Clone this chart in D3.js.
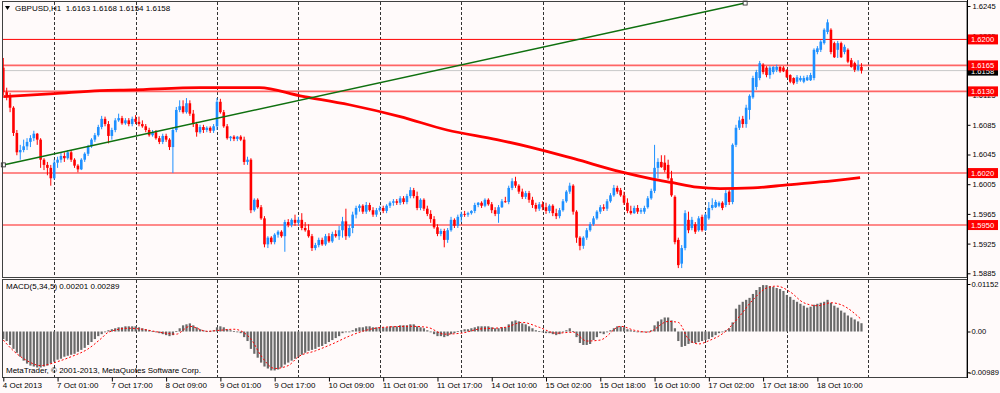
<!DOCTYPE html>
<html><head><meta charset="utf-8">
<script src="https://cdn.jsdelivr.net/npm/d3@7"></script>
<style>
html,body{margin:0;padding:0;background:#fffafa;}
svg{display:block;font-family:"Liberation Sans",Arial,sans-serif;}
</style></head><body>
<svg id="c" width="1000" height="393"></svg>
<script>
const symbol = "GBPUSD,H1";
const lastOHLC = [1.6163, 1.6168, 1.6154, 1.6158];
const open = [
1.6162,1.6129,1.6125,1.6108,1.6074,1.6048,1.6051,1.6056,1.6062,1.6067,
1.6073,1.6065,1.6038,1.6031,1.6027,1.6013,1.6034,1.6038,1.6043,1.6040,
1.6048,1.6038,1.6030,1.6025,1.6038,1.6046,1.6056,1.6065,1.6071,1.6082,
1.6093,1.6086,1.6070,1.6078,1.6091,1.6094,1.6087,1.6091,1.6086,1.6093,
1.6089,1.6086,1.6083,1.6078,1.6071,1.6075,1.6067,1.6062,1.6070,1.6065,
1.6055,1.6078,1.6105,1.6110,1.6102,1.6114,1.6100,1.6086,1.6075,1.6082,
1.6078,1.6081,1.6077,1.6083,1.6116,1.6102,1.6083,1.6067,1.6069,1.6066,
1.6069,1.6065,1.6035,1.6038,1.5970,1.5984,1.5974,1.5959,1.5924,1.5933,
1.5927,1.5937,1.5941,1.5935,1.5954,1.5950,1.5957,1.5953,1.5957,1.5946,
1.5943,1.5935,1.5919,1.5923,1.5930,1.5924,1.5935,1.5928,1.5938,1.5935,
1.5943,1.5955,1.5935,1.5946,1.5964,1.5973,1.5976,1.5968,1.5977,1.5970,
1.5964,1.5970,1.5973,1.5969,1.5976,1.5980,1.5982,1.5980,1.5986,1.5981,
1.5989,1.5997,1.5989,1.5973,1.5984,1.5972,1.5965,1.5958,1.5947,1.5938,
1.5942,1.5930,1.5943,1.5957,1.5949,1.5961,1.5965,1.5964,1.5966,1.5969,
1.5977,1.5980,1.5976,1.5984,1.5978,1.5970,1.5965,1.5974,1.5982,1.5981,
1.6000,1.6009,1.6003,1.5995,1.5988,1.5993,1.5984,1.5977,1.5972,1.5978,
1.5974,1.5969,1.5976,1.5966,1.5962,1.5970,1.5982,1.5995,1.6003,1.5968,
1.5933,1.5922,1.5933,1.5943,1.5951,1.5959,1.5968,1.5974,1.5972,1.5982,
1.5990,1.6000,1.5997,1.5990,1.5980,1.5969,1.5966,1.5973,1.5968,1.5968,
1.5974,1.5986,1.5996,1.6027,1.6035,1.6034,1.6031,1.6013,1.5988,1.5930,
1.5898,1.5919,1.5957,1.5946,1.5951,1.5943,1.5961,1.5943,1.5959,1.5973,
1.5974,1.5976,1.5980,1.5977,1.5995,1.5981,1.6058,1.6081,1.6093,1.6086,
1.6105,1.6122,1.6136,1.6148,1.6166,1.6162,1.6152,1.6156,1.6159,1.6163,
1.6162,1.6159,1.6152,1.6148,1.6143,1.6145,1.6143,1.6145,1.6145,1.6148,
1.6183,1.6186,1.6195,1.6210,1.6213,1.6195,1.6186,1.6195,1.6183,1.6186,
1.6172,1.6168,1.6159,1.6163];
const high = [
1.6175,1.6135,1.6128,1.6110,1.6078,1.6058,1.6065,1.6067,1.6071,1.6077,
1.6074,1.6067,1.6040,1.6035,1.6031,1.6038,1.6042,1.6047,1.6048,1.6051,
1.6051,1.6040,1.6032,1.6040,1.6048,1.6058,1.6067,1.6074,1.6085,1.6097,
1.6096,1.6090,1.6081,1.6094,1.6100,1.6097,1.6094,1.6094,1.6096,1.6098,
1.6096,1.6091,1.6086,1.6081,1.6078,1.6078,1.6070,1.6073,1.6073,1.6067,
1.6081,1.6109,1.6118,1.6118,1.6121,1.6118,1.6105,1.6089,1.6085,1.6085,
1.6083,1.6083,1.6086,1.6121,1.6120,1.6105,1.6086,1.6070,1.6071,1.6070,
1.6071,1.6069,1.6042,1.6040,1.5986,1.5986,1.5977,1.5962,1.5935,1.5935,
1.5939,1.5943,1.5943,1.5957,1.5958,1.5959,1.5964,1.5961,1.5966,1.5954,
1.5951,1.5938,1.5926,1.5933,1.5933,1.5938,1.5939,1.5941,1.5943,1.5949,
1.5961,1.5972,1.5950,1.5968,1.5976,1.5978,1.5978,1.5981,1.5980,1.5974,
1.5973,1.5976,1.5976,1.5978,1.5982,1.5985,1.5985,1.5989,1.5989,1.5992,
1.6001,1.6000,1.5995,1.5986,1.5986,1.5976,1.5970,1.5962,1.5951,1.5945,
1.5945,1.5946,1.5961,1.5959,1.5964,1.5968,1.5969,1.5968,1.5970,1.5980,
1.5981,1.5982,1.5986,1.5986,1.5981,1.5974,1.5977,1.5985,1.5988,1.6003,
1.6013,1.6015,1.6005,1.5999,1.5996,1.5996,1.5988,1.5980,1.5981,1.5982,
1.5980,1.5978,1.5978,1.5972,1.5973,1.5985,1.5997,1.6007,1.6005,1.5970,
1.5935,1.5935,1.5946,1.5954,1.5962,1.5970,1.5977,1.5978,1.5985,1.5993,
1.6004,1.6003,1.6000,1.5995,1.5986,1.5976,1.5976,1.5977,1.5973,1.5976,
1.5989,1.5999,1.6058,1.6040,1.6044,1.6044,1.6038,1.6023,1.5990,1.5933,
1.5923,1.5970,1.5968,1.5961,1.5954,1.5962,1.5964,1.5966,1.5981,1.5986,
1.5984,1.5982,1.5982,1.5997,1.5997,1.6060,1.6085,1.6096,1.6097,1.6112,
1.6126,1.6151,1.6159,1.6171,1.6168,1.6164,1.6164,1.6164,1.6166,1.6164,
1.6164,1.6160,1.6153,1.6149,1.6152,1.6151,1.6151,1.6152,1.6155,1.6188,
1.6191,1.6199,1.6215,1.6227,1.6215,1.6197,1.6198,1.6197,1.6193,1.6188,
1.6175,1.6170,1.6172,1.6168];
const low = [
1.6125,1.6118,1.6102,1.6070,1.6044,1.6038,1.6048,1.6051,1.6055,1.6063,
1.6058,1.6027,1.6024,1.6017,1.6003,1.6011,1.6027,1.6034,1.6035,1.6038,
1.6035,1.6027,1.6021,1.6024,1.6035,1.6043,1.6054,1.6062,1.6069,1.6079,
1.6083,1.6060,1.6065,1.6075,1.6089,1.6085,1.6085,1.6083,1.6083,1.6086,
1.6083,1.6081,1.6075,1.6069,1.6069,1.6065,1.6059,1.6059,1.6062,1.6051,
1.6020,1.6075,1.6102,1.6100,1.6100,1.6097,1.6082,1.6069,1.6073,1.6074,
1.6075,1.6074,1.6074,1.6078,1.6100,1.6081,1.6065,1.6063,1.6063,1.6063,
1.6063,1.6031,1.6031,1.5966,1.5968,1.5972,1.5957,1.5920,1.5919,1.5924,
1.5924,1.5933,1.5933,1.5914,1.5947,1.5947,1.5949,1.5949,1.5943,1.5941,
1.5933,1.5915,1.5916,1.5920,1.5922,1.5922,1.5926,1.5926,1.5933,1.5930,
1.5933,1.5930,1.5933,1.5939,1.5959,1.5968,1.5965,1.5965,1.5968,1.5961,
1.5961,1.5968,1.5966,1.5966,1.5973,1.5976,1.5977,1.5977,1.5978,1.5978,
1.5986,1.5986,1.5970,1.5970,1.5969,1.5962,1.5953,1.5945,1.5935,1.5935,
1.5920,1.5926,1.5941,1.5946,1.5946,1.5954,1.5961,1.5961,1.5964,1.5966,
1.5974,1.5973,1.5974,1.5976,1.5966,1.5962,1.5953,1.5973,1.5980,1.5978,
1.5997,1.6000,1.5992,1.5985,1.5985,1.5980,1.5973,1.5968,1.5969,1.5970,
1.5965,1.5966,1.5962,1.5958,1.5959,1.5968,1.5980,1.5992,1.5964,1.5926,
1.5916,1.5918,1.5930,1.5941,1.5949,1.5957,1.5965,1.5969,1.5969,1.5980,
1.5988,1.5992,1.5988,1.5977,1.5966,1.5964,1.5965,1.5965,1.5965,1.5965,
1.5972,1.5984,1.5993,1.6013,1.6027,1.6021,1.6011,1.5988,1.5924,1.5892,
1.5892,1.5916,1.5939,1.5943,1.5938,1.5941,1.5941,1.5942,1.5957,1.5970,
1.5973,1.5974,1.5970,1.5974,1.5977,1.5978,1.6055,1.6078,1.6081,1.6081,
1.6092,1.6120,1.6132,1.6145,1.6153,1.6149,1.6147,1.6153,1.6156,1.6155,
1.6156,1.6148,1.6141,1.6139,1.6140,1.6143,1.6141,1.6144,1.6144,1.6145,
1.6180,1.6183,1.6193,1.6207,1.6180,1.6175,1.6175,1.6175,1.6180,1.6168,
1.6162,1.6156,1.6157,1.6154];
const close = [
1.6129,1.6125,1.6108,1.6074,1.6048,1.6051,1.6056,1.6062,1.6067,1.6073,
1.6065,1.6038,1.6031,1.6027,1.6013,1.6034,1.6038,1.6043,1.6040,1.6048,
1.6038,1.6030,1.6025,1.6038,1.6046,1.6056,1.6065,1.6071,1.6082,1.6093,
1.6086,1.6070,1.6078,1.6091,1.6094,1.6087,1.6091,1.6086,1.6093,1.6089,
1.6086,1.6083,1.6078,1.6071,1.6075,1.6067,1.6062,1.6070,1.6065,1.6055,
1.6078,1.6105,1.6110,1.6102,1.6114,1.6100,1.6086,1.6075,1.6082,1.6078,
1.6081,1.6077,1.6083,1.6116,1.6102,1.6083,1.6067,1.6069,1.6066,1.6069,
1.6065,1.6035,1.6038,1.5970,1.5984,1.5974,1.5959,1.5924,1.5933,1.5927,
1.5937,1.5941,1.5935,1.5954,1.5950,1.5957,1.5953,1.5957,1.5946,1.5943,
1.5935,1.5919,1.5923,1.5930,1.5924,1.5935,1.5928,1.5938,1.5935,1.5943,
1.5955,1.5935,1.5946,1.5964,1.5973,1.5976,1.5968,1.5977,1.5970,1.5964,
1.5970,1.5973,1.5969,1.5976,1.5980,1.5982,1.5980,1.5986,1.5981,1.5989,
1.5997,1.5989,1.5973,1.5984,1.5972,1.5965,1.5958,1.5947,1.5938,1.5942,
1.5930,1.5943,1.5957,1.5949,1.5961,1.5965,1.5964,1.5966,1.5969,1.5977,
1.5980,1.5976,1.5984,1.5978,1.5970,1.5965,1.5974,1.5982,1.5981,1.6000,
1.6009,1.6003,1.5995,1.5988,1.5993,1.5984,1.5977,1.5972,1.5978,1.5974,
1.5969,1.5976,1.5966,1.5962,1.5970,1.5982,1.5995,1.6003,1.5968,1.5933,
1.5922,1.5933,1.5943,1.5951,1.5959,1.5968,1.5974,1.5972,1.5982,1.5990,
1.6000,1.5995,1.5990,1.5980,1.5969,1.5966,1.5973,1.5968,1.5970,1.5973,
1.5986,1.5996,1.6027,1.6035,1.6028,1.6024,1.6013,1.5990,1.5927,1.5896,
1.5919,1.5966,1.5943,1.5957,1.5941,1.5959,1.5943,1.5964,1.5973,1.5977,
1.5981,1.5980,1.5973,1.5993,1.5981,1.6058,1.6081,1.6091,1.6086,1.6108,
1.6124,1.6148,1.6156,1.6168,1.6156,1.6152,1.6162,1.6163,1.6163,1.6157,
1.6157,1.6149,1.6143,1.6141,1.6149,1.6148,1.6148,1.6149,1.6152,1.6186,
1.6188,1.6197,1.6213,1.6223,1.6183,1.6176,1.6195,1.6176,1.6190,1.6170,
1.6163,1.6159,1.6165,1.6158];

// moving average (read at sample bars)
const maIdx = [0,15,28.5,38,58,75.5,87.5,102,117,130.8,145.5,155.3,168.5,181.8,191.5,197.4,204.5,211.3,221,231,240.8,252.6];
const maVal = [1.6123,1.6127,1.6131,1.6132,1.6135,1.6135,1.6124,1.6112,1.6096,1.6078,1.6065,1.6055,1.6039,1.6022,1.6012,1.6007,1.6001,1.5999,1.6000,1.6004,1.6008,1.6014];

// trend line end points
const trendIdx = [0, 218.7];
const trendVal = [1.6031, 1.6249];

const levels = [1.6200, 1.6165, 1.6130, 1.6020, 1.5950];
const bid = 1.6158;
const priceTicks = [1.6245,1.6205,1.6165,1.6125,1.6085,1.6045,1.6005,1.5965,1.5925,1.5885];

const macdHist = [
-0.00183,-0.00231,-0.00326,-0.00421,-0.00516,-0.00611,-0.00707,-0.00778,-0.00826,-0.00849,
-0.00873,-0.00873,-0.00849,-0.00826,-0.00778,-0.00730,-0.00683,-0.00659,-0.00611,-0.00588,
-0.00564,-0.00540,-0.00492,-0.00445,-0.00397,-0.00326,-0.00255,-0.00183,-0.00112,-0.00064,
-0.00017,0.00031,0.00055,0.00079,0.00102,0.00102,0.00126,0.00126,0.00126,0.00126,
0.00102,0.00079,0.00055,0.00031,0.00007,-0.00017,-0.00040,-0.00064,-0.00088,-0.00112,
-0.00088,0.00007,0.00079,0.00150,0.00174,0.00197,0.00150,0.00102,0.00055,0.00031,
0.00007,0.00007,0.00031,0.00102,0.00126,0.00102,0.00055,0.00031,0.00007,-0.00017,
-0.00040,-0.00136,-0.00231,-0.00421,-0.00540,-0.00635,-0.00754,-0.00849,-0.00897,-0.00944,
-0.00944,-0.00921,-0.00873,-0.00802,-0.00754,-0.00707,-0.00659,-0.00611,-0.00564,-0.00516,
-0.00469,-0.00445,-0.00421,-0.00373,-0.00350,-0.00302,-0.00255,-0.00207,-0.00159,-0.00112,
-0.00040,-0.00017,-0.00017,0.00031,0.00079,0.00102,0.00102,0.00126,0.00126,0.00102,
0.00102,0.00102,0.00102,0.00102,0.00126,0.00126,0.00126,0.00150,0.00150,0.00150,
0.00174,0.00174,0.00126,0.00102,0.00079,0.00031,-0.00017,-0.00064,-0.00112,-0.00112,
-0.00136,-0.00112,-0.00064,-0.00040,0.00007,0.00031,0.00055,0.00055,0.00079,0.00102,
0.00126,0.00126,0.00126,0.00126,0.00102,0.00079,0.00079,0.00102,0.00102,0.00174,
0.00245,0.00269,0.00245,0.00197,0.00174,0.00126,0.00079,0.00031,0.00007,-0.00017,
-0.00040,-0.00040,-0.00064,-0.00088,-0.00064,-0.00017,0.00031,0.00079,0.00007,-0.00136,
-0.00278,-0.00326,-0.00326,-0.00302,-0.00207,-0.00136,-0.00040,-0.00064,-0.00017,0.00031,
0.00079,0.00126,0.00126,0.00102,0.00055,0.00031,0.00007,-0.00017,-0.00017,-0.00017,
-0.00017,0.00031,0.00150,0.00245,0.00293,0.00340,0.00340,0.00269,0.00079,-0.00231,
-0.00373,-0.00350,-0.00302,-0.00278,-0.00278,-0.00255,-0.00231,-0.00207,-0.00183,-0.00136,
-0.00088,-0.00040,-0.00017,0.00031,0.00079,0.00221,0.00554,0.00649,0.00721,0.00768,
0.00816,0.00911,0.01006,0.01078,0.01125,0.01125,0.01101,0.01078,0.01054,0.01030,
0.00983,0.00887,0.00840,0.00768,0.00721,0.00673,0.00626,0.00578,0.00602,0.00649,
0.00673,0.00697,0.00721,0.00768,0.00697,0.00626,0.00578,0.00507,0.00459,0.00388,
0.00340,0.00293,0.00245,0.00201];
const sigIdx = [0,3,7,11,16,20,25,29,31,37,41,46,51,55,60,64,68,73,76,80,84,87,92,97,102,107,112,120,125,130,135,140,148,153,158,163,168,172,176,182,186,190,196,199,202,205,208,213,217,221,225,228,232,236,240,244,247,253];
const sigVal = [-0.00207,-0.00469,-0.00707,-0.00826,-0.00730,-0.00611,-0.00421,-0.00159,-0.00017,0.00079,0.00055,-0.00017,-0.00064,0.00126,0.00007,0.00031,0.00055,-0.00183,-0.00588,-0.00897,-0.00826,-0.00611,-0.00469,-0.00302,-0.00112,0.00031,0.00102,0.00126,0.00102,-0.00064,-0.00040,0.00055,0.00102,0.00221,0.00102,-0.00040,-0.00017,-0.00231,-0.00207,0.00126,0.00031,-0.00017,0.00245,0.00221,-0.00183,-0.00302,-0.00223,0.00007,0.00364,0.00768,0.01054,0.01101,0.00959,0.00697,0.00626,0.00697,0.00649,0.00289];
const macdTicks = [0.01152, 0, -0.00989];
const macdTickLabels = ["0.01152", "0.00", "-0.00989"];
const macdLegend = "MACD(5,34,5) 0.00201 0.00289";

const timeIdx = [0,16,32,48,64,80,96,112,128,144,160,176,192,208,224,240];
const timeLabels = ["4 Oct 2013","7 Oct 01:00","7 Oct 17:00","8 Oct 09:00","9 Oct 01:00","9 Oct 17:00","10 Oct 09:00","11 Oct 01:00","11 Oct 17:00","14 Oct 10:00","15 Oct 02:00","15 Oct 18:00","16 Oct 10:00","17 Oct 02:00","17 Oct 18:00","18 Oct 10:00"];
const gridIdx = [15,39,63,87,111,135,159,183,207,231,255];

// ---------- drawing ----------
const svg = d3.select("#c");
const N = close.length;
const x = d3.scaleLinear().domain([0, 253]).range([3.3, 3.3 + 253 * 3.392]);
const y = d3.scaleLinear().domain([1.5885, 1.6245]).range([273.3, 6]);
const ym = d3.scaleLinear().domain([-0.00989, 0.01152]).range([372.3, 284]);
const RIGHT = 967;
const fmt4 = d3.format(".4f");

svg.append("rect").attr("width", 1000).attr("height", 393).attr("fill", "#fffafa");

// grid
const grid = svg.append("g").attr("stroke", "#333").attr("stroke-dasharray", "3,2").attr("stroke-width", 1);
gridIdx.forEach(g => {
  const gx = Math.round(x(g)) + 0.5;
  grid.append("line").attr("x1", gx).attr("x2", gx).attr("y1", 2).attr("y2", 277);
  grid.append("line").attr("x1", gx).attr("x2", gx).attr("y1", 280).attr("y2", 377);
});

// horizontal levels
levels.forEach((v, i) => {
  svg.append("line").attr("x1", 2).attr("x2", RIGHT).attr("y1", y(v)).attr("y2", y(v))
    .attr("stroke", i === 0 ? "#ff0000" : "#ff4a4a").attr("stroke-width", i === 0 ? 1 : 1.6)
    .attr("opacity", i === 0 ? 1 : 0.85);
});
svg.append("line").attr("x1", 2).attr("x2", RIGHT).attr("y1", y(bid)).attr("y2", y(bid))
  .attr("stroke", "#c8c8c8").attr("stroke-width", 1);

// candles
const cg = svg.append("g");
for (let i = 0; i < N; i++) {
  const up = close[i] >= open[i];
  const col = up ? "#1e90ff" : "#ff0000";
  const cx = x(i);
  cg.append("line").attr("x1", cx).attr("x2", cx).attr("y1", y(high[i])).attr("y2", y(low[i]))
    .attr("stroke", col).attr("stroke-width", 1);
  const t = y(Math.max(open[i], close[i])), b = y(Math.min(open[i], close[i]));
  cg.append("rect").attr("x", cx - 1.3).attr("width", 2.6).attr("y", t).attr("height", Math.max(0.9, b - t))
    .attr("fill", col);
}

// moving average
svg.append("path").datum(maIdx.map((d, i) => [d, maVal[i]]))
  .attr("d", d3.line().x(d => x(d[0])).y(d => y(d[1])).curve(d3.curveMonotoneX))
  .attr("fill", "none").attr("stroke", "#ff0000").attr("stroke-width", 2.8);

// trend line
svg.append("line").attr("x1", x(trendIdx[0])).attr("y1", y(trendVal[0]))
  .attr("x2", x(trendIdx[1])).attr("y2", y(trendVal[1]))
  .attr("stroke", "#0f700f").attr("stroke-width", 1.5);
[0, 1].forEach(k => {
  svg.append("rect").attr("x", x(trendIdx[k]) - 2).attr("y", y(trendVal[k]) - 2).attr("width", 4).attr("height", 4)
    .attr("fill", "#fff").attr("stroke", "#222").attr("stroke-width", 0.8);
});

// MACD histogram
const hg = svg.append("g").attr("fill", "#6a6a6a");
macdHist.forEach((v, i) => {
  const a = ym(0), b = ym(v);
  hg.append("rect").attr("x", x(i) - 1.1).attr("width", 2.2).attr("y", Math.min(a, b)).attr("height", Math.max(0.8, Math.abs(b - a)));
});
svg.append("path").datum(sigIdx.map((d, i) => [d, sigVal[i]]))
  .attr("d", d3.line().x(d => x(d[0])).y(d => ym(d[1])).curve(d3.curveMonotoneX))
  .attr("fill", "none").attr("stroke", "#ff0000").attr("stroke-width", 1).attr("stroke-dasharray", "2,2");

// panel borders
svg.append("rect").attr("x", 2.5).attr("y", 1.5).attr("width", RIGHT - 2.5).attr("height", 276)
  .attr("fill", "none").attr("stroke", "#404040");
svg.append("rect").attr("x", 2.5).attr("y", 279.5).attr("width", RIGHT - 2.5).attr("height", 98)
  .attr("fill", "none").attr("stroke", "#404040");

// axes
function styleAxis(g, fs) {
  g.select(".domain").remove();
  g.selectAll("text").attr("font-size", fs).attr("fill", "#000").attr("font-family", "Liberation Sans, Arial, sans-serif");
  g.selectAll("line").attr("stroke", "#000");
}
// price tick labels; a label sitting under a level box is left blank (it is hidden in the original)
const covered = v => levels.some(l => Math.abs(l - v) < 0.00001);
svg.append("g").attr("transform", `translate(${RIGHT + 0.5},0)`)
  .call(d3.axisRight(y).tickValues(priceTicks).tickSize(3).tickPadding(2).tickFormat(d => covered(d) ? "" : fmt4(d)))
  .call(g => styleAxis(g, 7.6));
const ma = svg.append("g").attr("transform", `translate(${RIGHT + 0.5},0)`)
  .call(d3.axisRight(ym).tickValues(macdTicks).tickSize(3).tickPadding(1).tickFormat((d, i) => macdTickLabels[i]))
  .call(g => styleAxis(g, 7.6));
ma.selectAll("text").attr("dx", d => d < 0 ? -2.5 : 0);
const xa = svg.append("g").attr("transform", "translate(0,377.5)")
  .call(d3.axisBottom(x).tickValues(timeIdx).tickSize(4).tickPadding(1).tickFormat((d, i) => timeLabels[i]))
  .call(g => styleAxis(g, 8));
xa.selectAll("text").attr("text-anchor", "start").attr("dx", -1);

// label boxes
function box(v, fill) {
  const cy = y(v);
  svg.append("rect").attr("x", RIGHT + 1).attr("y", cy - 5).attr("width", 30).attr("height", 10).attr("fill", fill);
  svg.append("text").attr("x", RIGHT + 4).attr("y", cy + 3).attr("font-size", 7.6).attr("fill", "#fff").text(fmt4(v));
}
box(bid, "#000");
levels.forEach(v => box(v, "#ff0000"));

// titles
svg.append("path").attr("d", "M5,6 L10,6 L7.5,10 Z").attr("fill", "#000");
svg.append("text").attr("x", 15).attr("y", 11).attr("font-size", 8).attr("fill", "#000")
  .attr("xml:space", "preserve")
  .text(symbol + "  " + lastOHLC.map(fmt4).join(" "));
svg.append("text").attr("x", 6).attr("y", 289).attr("font-size", 8).attr("fill", "#000").text(macdLegend);
svg.append("text").attr("x", 6).attr("y", 373).attr("font-size", 8).attr("fill", "#000")
  .text("MetaTrader, \u00a9 2001-2013, MetaQuotes Software Corp.");
svg.append("line").attr("x1", RIGHT + 0.5).attr("x2", RIGHT + 0.5).attr("y1", 0).attr("y2", 378).attr("stroke", "#000");
</script>
</body></html>
